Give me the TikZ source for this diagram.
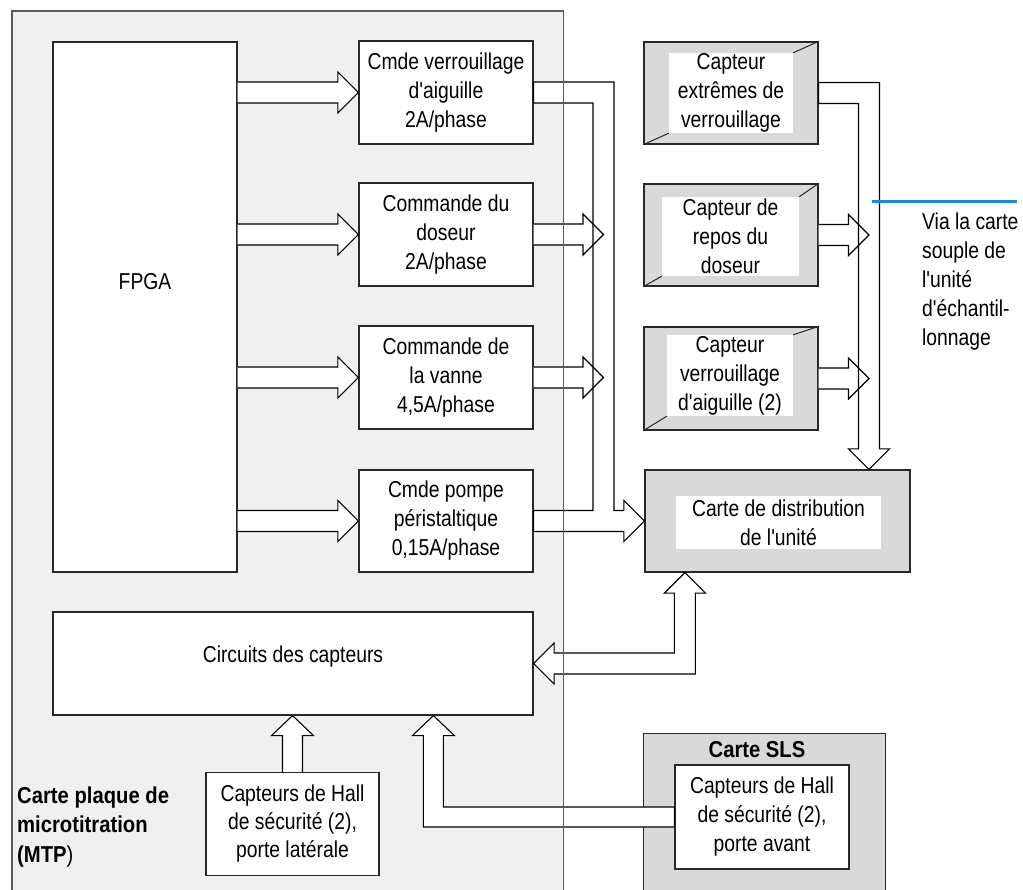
\documentclass[tikz,border=0pt]{standalone}
\usepackage{fontspec}
\setmainfont{Liberation Sans}[FakeStretch=0.84,Ligatures=TeXOff]
\newfontfamily\lblbf{Liberation Sans}[FakeStretch=0.88,Ligatures=TeXOff]
\usetikzlibrary{calc}
\definecolor{mtpfill}{RGB}{240,240,240}
\definecolor{cardgray}{RGB}{217,217,217}
\definecolor{edge}{RGB}{40,40,40}
\definecolor{mtpedge}{RGB}{90,90,90}
\definecolor{callout}{RGB}{25,135,230}
\tikzset{
  txtfont/.style={font=\fontsize{23}{29}\selectfont},
  box/.style={draw=edge, line width=1.2pt, fill=white, inner sep=0pt, align=center, txtfont},
  card/.style={draw=edge, line width=1.2pt, fill=cardgray, inner sep=0pt},
  innerbox/.style={fill=white, inner sep=0pt, align=center, txtfont},
  fat/.style={draw=black, line width=1.1pt, fill=white, line join=miter},
  bevel/.style={draw=edge, line width=1pt},
  plain/.style={inner sep=0pt, align=center, txtfont},
}
\newcommand\fatright[2]{%
  \path[fat] let \p1=(#1), \p2=(#2) in
    (\x1,\y2+10.5pt) -- (\x2-20.5pt,\y2+10.5pt) -- (\x2-20.5pt,\y2+20.5pt) -- (\x2,\y2)
    -- (\x2-20.5pt,\y2-20.5pt) -- (\x2-20.5pt,\y2-10.5pt) -- (\x1,\y2-10.5pt);}
\newcommand\leftbus[1]{%
  \path[#1] let \p1=(cmd1.east), \p2=(cmd4.east), \p3=(dist.west), \p4=(lbus) in
    (\x1,\y1+10.5pt) -- (\x4+10.5pt,\y1+10.5pt) -- (\x4+10.5pt,\y3+10.5pt)
    -- (\x3-20.5pt,\y3+10.5pt) -- (\x3-20.5pt,\y3+20.5pt) -- (\x3,\y3)
    -- (\x3-20.5pt,\y3-20.5pt) -- (\x3-20.5pt,\y3-10.5pt) -- (\x2,\y3-10.5pt)
    -- (\x2,\y3+10.5pt) -- (\x4-10.5pt,\y3+10.5pt) -- (\x4-10.5pt,\y1-10.5pt)
    -- (\x1,\y1-10.5pt) -- cycle;}
\newcommand\rightbus[1]{%
  \path[#1] let \p1=(sens1.east), \p2=(rbus), \p3=(rbus |- dist.north) in
    (\x1,\y1+10.5pt) -- (\x2+10.5pt,\y1+10.5pt) -- (\x2+10.5pt,\y3+20.5pt)
    -- (\x2+20.5pt,\y3+20.5pt) -- (\x2,\y3) -- (\x2-20.5pt,\y3+20.5pt)
    -- (\x2-10.5pt,\y3+20.5pt) -- (\x2-10.5pt,\y1-10.5pt) -- (\x1,\y1-10.5pt) -- cycle;}
\begin{document}
\begin{tikzpicture}[x=1pt,y=-1pt]
\useasboundingbox (0,0) rectangle (1023,890);

% MTP board
\node[fill=mtpfill, inner sep=0pt, minimum width=551pt, minimum height=900pt, anchor=north west] (mtp) at (12,11) {};

% right-hand cards
\node[card, minimum width=242pt, minimum height=200pt, anchor=north west] (sls) at (643,733) {};
\node[card, minimum width=265pt, minimum height=102pt] (dist) at (777.5,521) {};
\node[innerbox, minimum width=205pt, minimum height=53pt] (distin) at (778.5,522.5) {Carte de distribution\\de l'unité};

\node[card, minimum width=174pt, minimum height=102pt] (sens1) at (731,93) {};
\node[innerbox, minimum width=124pt, minimum height=80pt] (sens1in) at (731,93) {Capteur\\extrêmes de\\verrouillage};
\node[card, minimum width=174pt, minimum height=102pt] (sens2) at (731,235) {};
\node[innerbox, minimum width=137pt, minimum height=79pt] (sens2in) at (730.5,236.5) {Capteur de\\repos du\\doseur};
\node[card, minimum width=174pt, minimum height=103pt] (sens3) at (731,378.5) {};
\node[innerbox, minimum width=126pt, minimum height=81pt] (sens3in) at (730,375.5) {Capteur\\verrouillage\\d'aiguille (2)};
\foreach \s in {sens1,sens2,sens3}{
  \draw[bevel] (\s.north east) -- (\s in.north east);
  \draw[bevel] (\s.south west) -- (\s in.south west);
}

% boxes on the MTP board
\node[box, minimum width=184pt, minimum height=530pt] (fpga) at (145,307) {};
\node[plain] (fpgatxt) at (145,282) {FPGA};
\node[box, minimum width=174pt, minimum height=103pt] (cmd1) at (446,92.5) {Cmde verrouillage\\d'aiguille\\2A/phase};
\node[box, minimum width=174pt, minimum height=103pt] (cmd2) at (446,234.5) {Commande du\\doseur\\2A/phase};
\node[box, minimum width=174pt, minimum height=103pt] (cmd3) at (446,377.5) {Commande de\\la vanne\\4,5A/phase};
\node[box, minimum width=174pt, minimum height=102pt] (cmd4) at (446,521) {Cmde pompe\\péristaltique\\0,15A/phase};
\node[box, minimum width=480pt, minimum height=103pt] (circ) at (293,663.5) {};
\node[plain] (circtxt) at (293,657) {Circuits des capteurs};
\node[box, minimum width=173pt, minimum height=103pt, font=\fontsize{23}{28}\selectfont] (hallL) at (292.5,824) {Capteurs de Hall\\de sécurité (2),\\porte latérale};
\node[box, minimum width=174pt, minimum height=104pt] (hallF) at (762,817) {Capteurs de Hall\\de sécurité (2),\\porte avant};

% labels of the boards
\node[anchor=base west, align=left, inner sep=0pt, font=\lblbf\bfseries\fontsize{23}{29.5}\selectfont] (mtplbl) at (17,862) {Carte plaque de\\microtitration\\(MTP{\mdseries)}};
\node[inner sep=0pt, font=\lblbf\bfseries\fontsize{23}{26}\selectfont] (slslbl) at (757,750) {Carte SLS};

% FPGA to command boxes
\fatright{fpga.east}{cmd1.west}
\fatright{fpga.east}{cmd2.west}
\fatright{fpga.east}{cmd3.west}
\fatright{fpga.east}{cmd4.west}

% left bus to the distribution card
\coordinate (lbus) at (603.5,0);
\leftbus{fill=white}
\fatright{cmd2.east}{lbus |- cmd2.east}
\fatright{cmd3.east}{lbus |- cmd3.east}
\leftbus{draw=black, line width=1.1pt, line join=miter}

% right bus from the sensors
\coordinate (rbus) at (869,0);
\rightbus{fill=white}
\fatright{sens2.east}{rbus |- sens2.east}
\fatright{sens3.east}{rbus |- sens3.east}
\rightbus{draw=black, line width=1.1pt, line join=miter}

% distribution <-> sensor circuits
\coordinate (du) at ($(dist.south west)+(40.5,0)$);
\path[fat] let \p1=(du), \p2=(circ.east) in
  (\x1,\y1) -- (\x1+20.5pt,\y1-20.5pt) -- (\x1+10.5pt,\y1-20.5pt) -- (\x1+10.5pt,\y2-10.5pt)
  -- (\x2+20.5pt,\y2-10.5pt) -- (\x2+20.5pt,\y2-20.5pt) -- (\x2,\y2)
  -- (\x2+20.5pt,\y2+20.5pt) -- (\x2+20.5pt,\y2+10.5pt) -- (\x1-10.5pt,\y2+10.5pt)
  -- (\x1-10.5pt,\y1-20.5pt) -- (\x1-20.5pt,\y1-20.5pt) -- cycle;

% side door Hall sensors -> circuits
\path[fat] let \p1=(hallL.north), \p2=(circ.south -| hallL.north) in
  (\x1-10pt,\y1) -- (\x1-10pt,\y2-20pt) -- (\x1-21pt,\y2-20pt) -- (\x2,\y2)
  -- (\x1+21pt,\y2-20pt) -- (\x1+10pt,\y2-20pt) -- (\x1+10pt,\y1);

% front door Hall sensors -> circuits
\coordinate (su) at ($(circ.south west)+(381,0)$);
\path[fat] let \p1=(su), \p2=(hallF.west) in
  (\x1,\y1) -- (\x1+21pt,\y1-20pt) -- (\x1+10pt,\y1-20pt) -- (\x1+10pt,\y2+10pt)
  -- (\x2,\y2+10pt) -- (\x2,\y2-10pt) -- (\x1-10pt,\y2-10pt) -- (\x1-10pt,\y1-20pt)
  -- (\x1-21pt,\y1-20pt) -- cycle;

% MTP border on top
\draw[draw=mtpedge, line width=1.2pt] (mtp.north west) rectangle (mtp.south east);

% callout
\coordinate (callA) at (872,202);
\coordinate (callB) at (1017,202);
\draw[callout, line width=3pt] (callA) -- (callB);
\node[anchor=base west, align=left, inner sep=0pt, txtfont] (via) at (922,346) {Via la carte\\souple de\\l'unité\\d'échantil-\\lonnage};
\end{tikzpicture}
\end{document}
